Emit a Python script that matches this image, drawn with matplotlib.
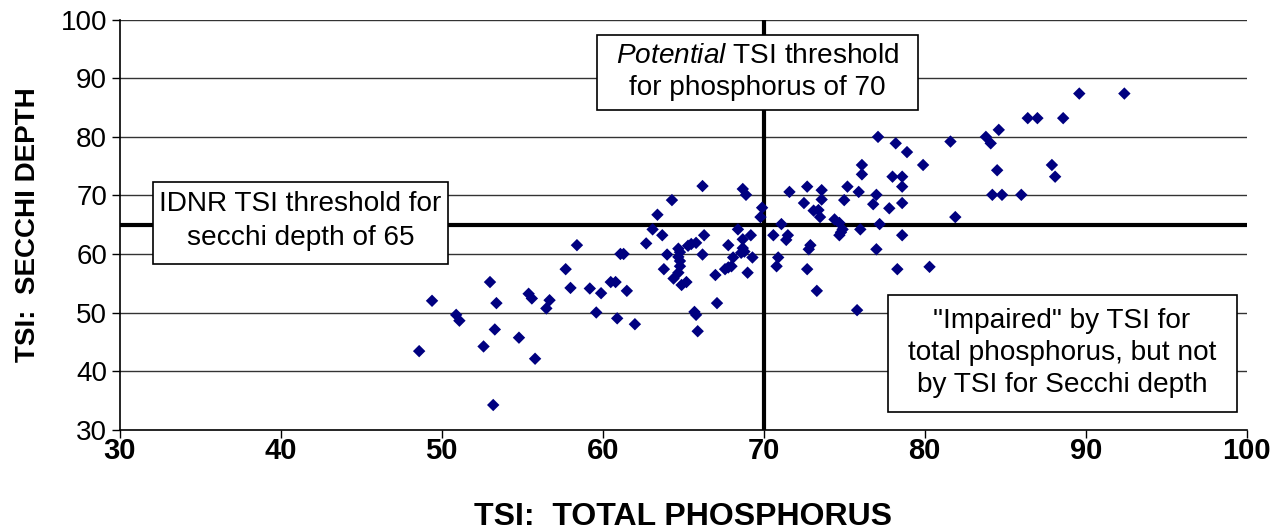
import matplotlib
matplotlib.use("Agg")
import matplotlib.pyplot as plt
from matplotlib.patches import Rectangle

plt.rcParams['font.family'] = ['Liberation Sans', 'DejaVu Sans']
plt.rcParams['mathtext.fontset'] = 'custom'
plt.rcParams['mathtext.it'] = 'Liberation Sans:italic'
plt.rcParams['mathtext.rm'] = 'Liberation Sans'

# TSI values
tsi_phosphorus = [
    57.7, 58.0, 53.0, 49.4, 53.4, 55.4, 55.6, 56.7, 56.5, 50.9, 51.1, 53.3, 54.8, 52.6, 48.6, 55.8, 53.2,
    58.4, 59.2, 59.9, 59.6, 60.9, 62.0, 60.5, 60.8, 61.5, 61.1, 61.3, 62.7,
    63.1, 63.7, 63.4, 64.3, 66.2, 64.0, 63.8,
    64.7, 64.8, 64.7, 64.8, 64.8, 64.7, 64.4, 64.9, 65.2,
    65.3, 65.5, 65.8,
    66.3, 66.2, 67.0, 67.1,
    67.6, 68.0, 67.8, 68.1, 67.8,
    68.4, 68.7, 69.2, 68.7, 68.8, 68.6, 69.3, 69.0, 68.7, 68.9, 69.9, 69.8,
    65.7, 65.8, 65.9,
    70.6, 71.1, 71.4, 71.5, 70.9, 70.8, 71.6, 72.7, 72.5, 73.1, 73.4, 73.5, 73.6, 73.6,
    72.9, 72.8, 72.7, 73.3, 74.4, 74.7, 75.0, 75.2, 74.9, 74.8, 74.7,
    76.0, 75.9, 76.1, 76.1, 76.8, 77.0, 77.2, 77.0, 77.1, 78.2, 78.9, 77.8, 78.0, 78.6,
    78.6, 78.6, 78.6, 78.3, 79.9, 80.3, 75.8,
    81.6, 81.9, 83.8, 84.1, 84.6, 84.5, 84.2, 84.8, 86.0, 86.4, 87.0, 88.6, 87.9, 88.1, 89.6, 92.4,
]
tsi_secchi = [
    57.4, 54.2, 55.2, 52.0, 51.6, 53.2, 52.4, 52.1, 50.7, 49.6, 48.6, 47.1, 45.7, 44.2, 43.4, 42.1, 34.2,
    61.5, 54.1, 53.3, 50.0, 49.0, 48.0, 55.2, 55.2, 53.7, 60.0, 60.0, 61.8,
    64.2, 63.2, 66.7, 69.2, 71.6, 59.9, 57.4,
    60.9, 60.3, 59.5, 58.8, 57.9, 56.8, 55.8, 54.7, 55.2,
    61.4, 61.7, 61.9,
    63.2, 59.9, 56.4, 51.6,
    57.4, 57.9, 57.7, 59.4, 61.5,
    64.2, 62.5, 63.2, 61.0, 60.4, 60.2, 59.4, 56.8, 71.1, 70.1, 67.9, 66.3,
    50.1, 49.6, 46.8,
    63.2, 65.1, 62.4, 63.2, 59.4, 57.9, 70.6, 71.5, 68.7, 67.4, 67.5, 66.3, 70.9, 69.3,
    61.5, 60.8, 57.4, 53.7, 65.9, 65.3, 69.2, 71.5, 64.2, 63.7, 63.2,
    64.2, 70.6, 75.2, 73.6, 68.5, 70.1, 65.1, 60.8, 80.0, 78.9, 77.4, 67.8, 73.2, 73.2,
    71.5, 68.7, 63.2, 57.4, 75.2, 57.8, 50.4,
    79.2, 66.3, 80.0, 78.9, 81.2, 74.3, 70.1, 70.1, 70.1, 83.2, 83.2, 83.2, 75.2, 73.2, 87.4, 87.4,
]

x_ticks = [30, 40, 50, 60, 70, 80, 90, 100]
y_ticks = [30, 40, 50, 60, 70, 80, 90, 100]
phosphorus_threshold = 70
secchi_threshold = 65

fig = plt.figure(figsize=(12.8, 5.31), dpi=100)
ax = fig.add_axes([0.0935, 0.191, 0.8805, 0.7717])

ax.set_xlim(30, 100)
ax.set_ylim(30, 100)

for yv in y_ticks[1:]:
    ax.axhline(yv, color='#333333', lw=1.0, zorder=1)

ax.axhline(secchi_threshold, color='black', lw=3, zorder=2)
ax.axvline(phosphorus_threshold, color='black', lw=3, zorder=2)

ax.scatter(tsi_phosphorus, tsi_secchi, marker='D', s=40, color='#000080',
           edgecolors='none', zorder=3)

ax.set_xticks(x_ticks)
ax.set_yticks(y_ticks)
ax.set_xticklabels([str(v) for v in x_ticks], fontweight='bold', fontsize=21)
ax.set_yticklabels([str(v) for v in y_ticks], fontsize=20)
ax.tick_params(axis='both', direction='out', length=6, width=1, color='black')
ax.tick_params(axis='x', pad=-1)
ax.tick_params(axis='y', pad=3)

for side in ['top', 'right']:
    ax.spines[side].set_visible(False)
for side in ['left', 'bottom']:
    ax.spines[side].set_color('black')
    ax.spines[side].set_linewidth(1.2)

ax.set_xlabel('TSI:  TOTAL PHOSPHORUS', fontweight='bold', fontsize=23, labelpad=27)
ax.set_ylabel('TSI:  SECCHI DEPTH', fontweight='bold', fontsize=20, labelpad=14)

def box(x0, x1, y0, y1):
    ax.add_patch(Rectangle((x0, y0), x1 - x0, y1 - y0, facecolor='white',
                           edgecolor='black', lw=1.2, zorder=5))

box(32.07, 50.4, 58.25, 72.37)
ax.text(41.23, 65.6, 'IDNR TSI threshold for\nsecchi depth of 65', ha='center', va='center',
        multialignment='center', fontsize=20.2, linespacing=1.4, zorder=6)

box(59.65, 79.58, 84.59, 97.4)
ax.text(69.61, 91.0, '$\\mathit{Potential}$ TSI threshold\nfor phosphorus of 70', ha='center',
        va='center', multialignment='center', fontsize=20.2, linespacing=1.3, zorder=6)

box(77.7, 99.37, 33.0, 52.99)
ax.text(88.53, 43.0, '"Impaired" by TSI for\ntotal phosphorus, but not\nby TSI for Secchi depth',
        ha='center', va='center', multialignment='center', fontsize=20.2, linespacing=1.3, zorder=6)

fig.savefig('out.png', dpi=100)
